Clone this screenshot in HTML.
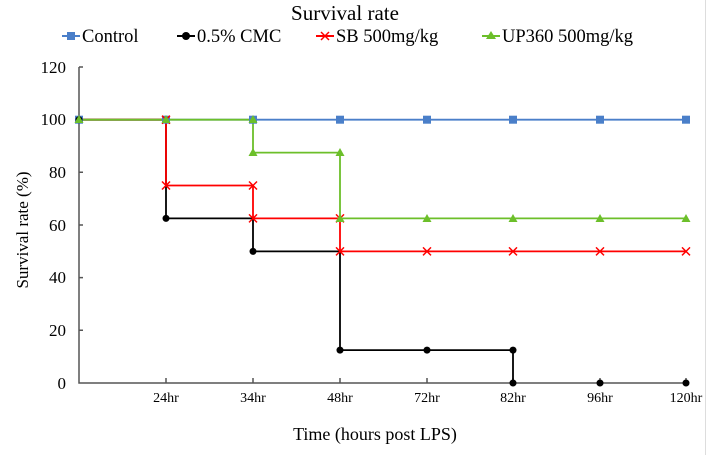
<!DOCTYPE html>
<html><head><style>body{margin:0;background:#fff}</style></head><body>
<svg width="725" height="455" xmlns="http://www.w3.org/2000/svg" font-family="Liberation Serif, serif">
<rect width="725" height="455" fill="#fff"/>
<line x1="705.5" y1="0" x2="705.5" y2="455" stroke="#ddd"/>
<text x="345" y="20" font-size="21" text-anchor="middle">Survival rate</text>
<g font-size="18.5">
<line x1="62" y1="36" x2="80" y2="36" stroke="#4a7fc9" stroke-width="2"/><rect x="67" y="32" width="8" height="8" fill="#4a7fc9"/>
<text x="82" y="42">Control</text>
<line x1="177" y1="36" x2="195" y2="36" stroke="#000" stroke-width="2"/><circle cx="186" cy="36" r="4"/>
<text x="197" y="42">0.5% CMC</text>
<line x1="316" y1="36" x2="334" y2="36" stroke="red" stroke-width="2"/><path d="M321 32l8 8M329 32l-8 8" stroke="red" stroke-width="1.5"/>
<text x="336" y="42">SB 500mg/kg</text>
<line x1="482" y1="36" x2="500" y2="36" stroke="#6cbf2a" stroke-width="2"/><path d="M491 31l5 8h-10z" fill="#6cbf2a"/>
<text x="502" y="42">UP360 500mg/kg</text>
</g>
<g stroke="#555" stroke-width="1.5" fill="none">
<path d="M79 67V383H686"/>
<path d="M79 67h4M79 119.7h4M79 172.3h4M79 225h4M79 277.6h4M79 330.3h4"/>
<path d="M166 383v-5M253 383v-5M340 383v-5M427 383v-5M513 383v-5M600 383v-5M686 383v-5"/>
</g>
<g font-size="17" text-anchor="end">
<text x="66" y="73">120</text><text x="66" y="125">100</text><text x="66" y="178">80</text><text x="66" y="231">60</text><text x="66" y="283">40</text><text x="66" y="336">20</text><text x="66" y="389">0</text>
</g>
<g font-size="14" text-anchor="middle">
<text x="166" y="402">24hr</text><text x="253" y="402">34hr</text><text x="340" y="402">48hr</text><text x="427" y="402">72hr</text><text x="513" y="402">82hr</text><text x="600" y="402">96hr</text><text x="686" y="402">120hr</text>
</g>
<text x="375" y="440" font-size="18" text-anchor="middle">Time (hours post LPS)</text>
<text transform="translate(28 230) rotate(-90)" font-size="17" text-anchor="middle">Survival rate (%)</text>
<g fill="none" stroke-width="1.8">
<path d="M79 119.7H686" stroke="#4a7fc9"/>
<path d="M79 119.7H166V218.4H253V251.4H340V350.1H513V383" stroke="#000"/>
<path d="M79 119.7H166V185.5H253V218.4H340V251.4H686" stroke="red"/>
<path d="M79 119.7H253V152.6H340V218.4H686" stroke="#6cbf2a"/>
</g>
<g fill="#4a7fc9">
<rect x="75" y="115.7" width="8" height="8"/><rect x="162" y="115.7" width="8" height="8"/><rect x="249" y="115.7" width="8" height="8"/><rect x="336" y="115.7" width="8" height="8"/><rect x="423" y="115.7" width="8" height="8"/><rect x="509" y="115.7" width="8" height="8"/><rect x="596" y="115.7" width="8" height="8"/><rect x="682" y="115.7" width="8" height="8"/>
</g>
<g fill="#000">
<circle cx="79" cy="119.7" r="3.5"/><circle cx="166" cy="218.4" r="3.5"/><circle cx="253" cy="251.4" r="3.5"/><circle cx="340" cy="350.1" r="3.5"/><circle cx="427" cy="350.1" r="3.5"/><circle cx="513" cy="350.1" r="3.5"/><circle cx="513" cy="383" r="3.5"/><circle cx="600" cy="383" r="3.5"/><circle cx="686" cy="383" r="3.5"/>
</g>
<g stroke="red" stroke-width="1.5">
<path d="M162 115.7l8 8M170 115.7l-8 8"/>
<path d="M162 181.5l8 8M170 181.5l-8 8"/><path d="M249 181.5l8 8M257 181.5l-8 8"/>
<path d="M249 214.4l8 8M257 214.4l-8 8"/><path d="M336 214.4l8 8M344 214.4l-8 8"/>
<path d="M336 247.4l8 8M344 247.4l-8 8"/><path d="M423 247.4l8 8M431 247.4l-8 8"/><path d="M509 247.4l8 8M517 247.4l-8 8"/><path d="M596 247.4l8 8M604 247.4l-8 8"/><path d="M682 247.4l8 8M690 247.4l-8 8"/>
</g>
<g fill="#6cbf2a">
<path d="M79 115l4.5 8h-9z"/><path d="M166 115l4.5 8h-9z"/><path d="M253 115l4.5 8h-9z"/>
<path d="M253 148l4.5 8h-9z"/><path d="M340 148l4.5 8h-9z"/>
<path d="M340 214l4.5 8h-9z"/><path d="M427 214l4.5 8h-9z"/><path d="M513 214l4.5 8h-9z"/><path d="M600 214l4.5 8h-9z"/><path d="M686 214l4.5 8h-9z"/>
</g>
</svg>
</body></html>
